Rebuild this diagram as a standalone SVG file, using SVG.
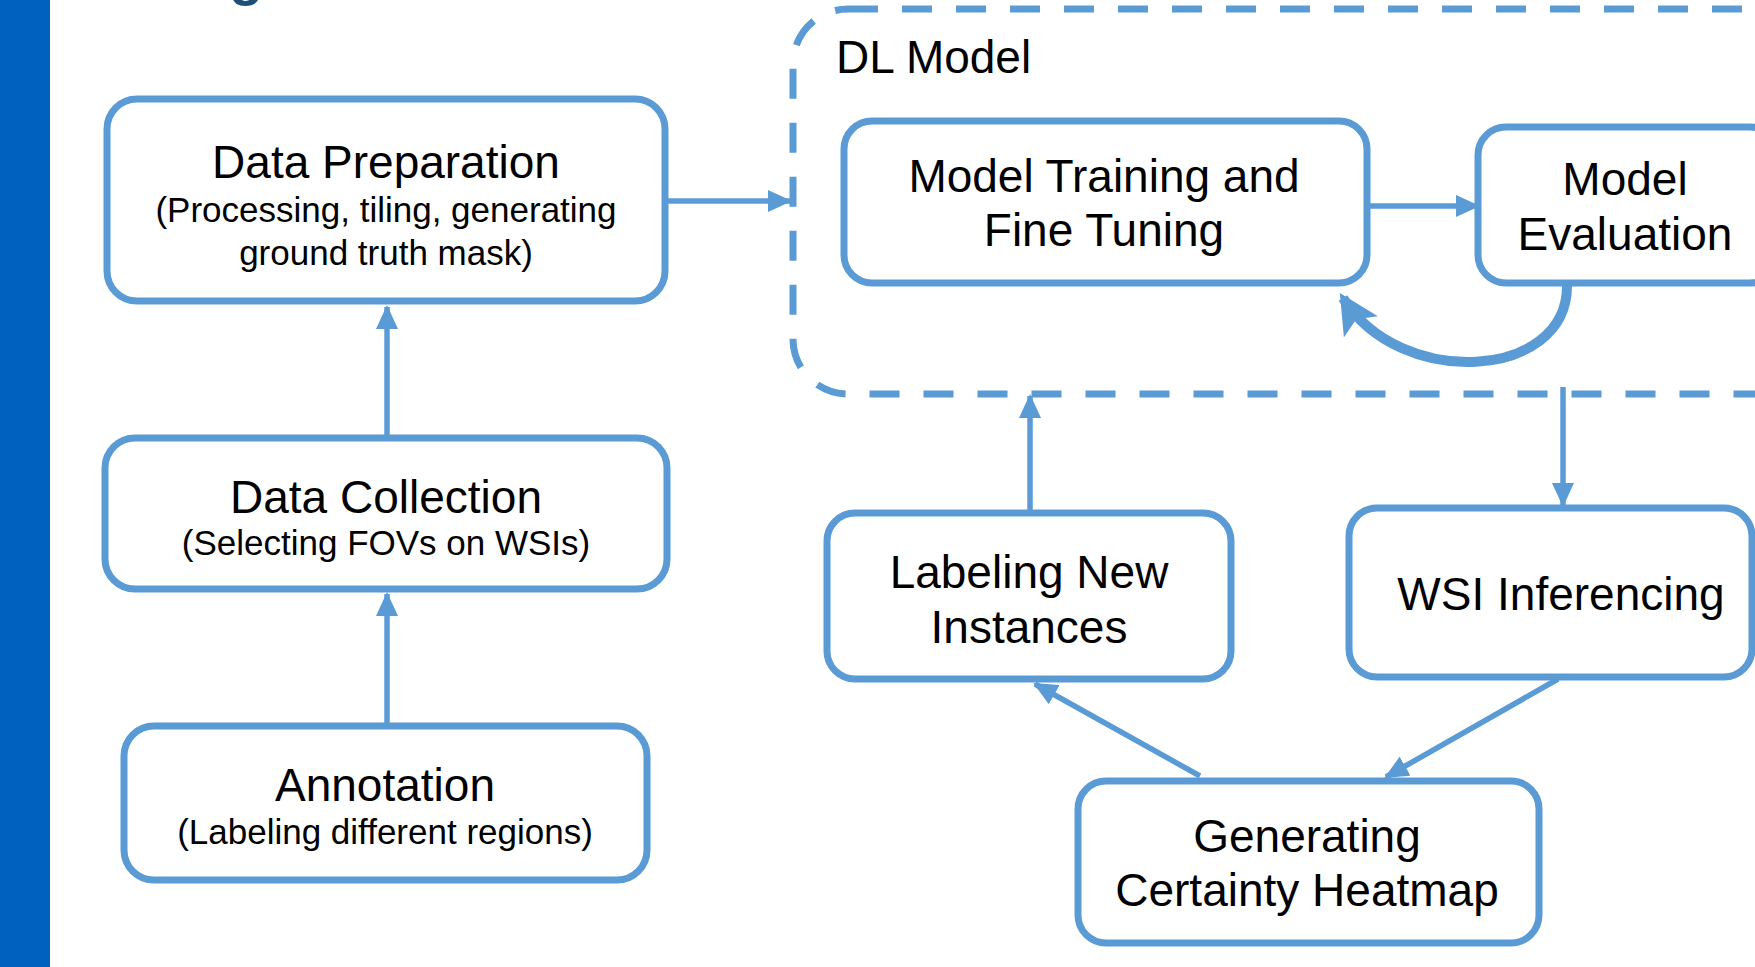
<svg xmlns="http://www.w3.org/2000/svg" width="1755" height="967" viewBox="0 0 1755 967">
  <defs>
    <style>
      .box { fill: #ffffff; stroke: #5B9BD5; stroke-width: 7; }
      .frame { fill: none; stroke: #5B9BD5; stroke-width: 7; stroke-dasharray: 30 24; }
      .link { fill: none; stroke: #5B9BD5; stroke-width: 5.5; }
      .loop { fill: none; stroke: #5B9BD5; stroke-width: 10; }
      .t { font-family: "Liberation Sans", Arial, Helvetica, sans-serif; fill: #000000; text-anchor: middle; }
      .h { font-size: 46px; }
      .s { font-size: 35px; }
    </style>
    <marker id="arrow" markerUnits="userSpaceOnUse" markerWidth="24" markerHeight="22" refX="22" refY="11" orient="auto">
      <path d="M0,0 L24,11 L0,22 Z" fill="#5B9BD5"/>
    </marker>
    <marker id="arrowBig" markerUnits="userSpaceOnUse" markerWidth="40" markerHeight="40" refX="34" refY="20" orient="auto">
      <path d="M0,0 L40,20 L0,40 L9,20 Z" fill="#5B9BD5"/>
    </marker>
  </defs>

  <rect width="1755" height="967" fill="#ffffff"/>

  <!-- side band and clipped heading -->
  <rect x="0" y="0" width="50" height="967" fill="#0061BE"/>
  <text x="229" y="-6" font-family="Liberation Sans, Arial, sans-serif" font-weight="bold" font-size="56" fill="#1F4E79">g</text>

  <!-- DL model container -->
  <g id="dl-model">
    <rect class="frame" x="793" y="9" width="1100" height="385" rx="55" ry="55"/>
    <text class="t h" x="836" y="73" style="text-anchor:start">DL Model</text>
  </g>

  <g id="data-preparation">
    <rect class="box" x="107" y="99" width="558" height="202" rx="30"/>
    <text class="t h" x="386" y="178">Data Preparation</text>
    <text class="t s" x="386" y="222">(Processing, tiling, generating</text>
    <text class="t s" x="386" y="265">ground truth mask)</text>
  </g>

  <g id="data-collection">
    <rect class="box" x="105" y="438" width="562" height="151" rx="30"/>
    <text class="t h" x="386" y="513">Data Collection</text>
    <text class="t s" x="386" y="555">(Selecting FOVs on WSIs)</text>
  </g>

  <g id="annotation">
    <rect class="box" x="124" y="726" width="523" height="154" rx="30"/>
    <text class="t h" x="385" y="801">Annotation</text>
    <text class="t s" x="385" y="844">(Labeling different regions)</text>
  </g>

  <g id="model-training">
    <rect class="box" x="844" y="121" width="523" height="162" rx="28"/>
    <text class="t h" x="1104" y="192">Model Training and</text>
    <text class="t h" x="1104" y="246">Fine Tuning</text>
  </g>

  <g id="model-evaluation">
    <rect class="box" x="1478" y="127" width="300" height="156" rx="28"/>
    <text class="t h" x="1625" y="195">Model</text>
    <text class="t h" x="1625" y="250">Evaluation</text>
  </g>

  <g id="labeling-new-instances">
    <rect class="box" x="827" y="513" width="404" height="166" rx="28"/>
    <text class="t h" x="1029" y="588">Labeling New</text>
    <text class="t h" x="1029" y="643">Instances</text>
  </g>

  <g id="wsi-inferencing">
    <rect class="box" x="1349" y="508" width="403" height="169" rx="28"/>
    <text class="t h" x="1561" y="610">WSI Inferencing</text>
  </g>

  <g id="certainty-heatmap">
    <rect class="box" x="1078" y="781" width="461" height="162" rx="28"/>
    <text class="t h" x="1307" y="852">Generating</text>
    <text class="t h" x="1307" y="906">Certainty Heatmap</text>
  </g>

  <g id="connectors">
    <path class="link" d="M387,723 L387,594" marker-end="url(#arrow)"/>
    <path class="link" d="M387,435 L387,307" marker-end="url(#arrow)"/>
    <path class="link" d="M668,201 L790,201" marker-end="url(#arrow)"/>
    <path class="link" d="M1370,206 L1478,206" marker-end="url(#arrow)"/>
    <path class="loop" d="M1567,286 C1567,380 1400,390 1343,298" marker-end="url(#arrowBig)"/>
    <path class="link" d="M1030,510 L1030,396" marker-end="url(#arrow)"/>
    <path class="link" d="M1563,387 L1563,505" marker-end="url(#arrow)"/>
    <path class="link" d="M1558,679 L1386,777" marker-end="url(#arrow)"/>
    <path class="link" d="M1200,776 L1035,684" marker-end="url(#arrow)"/>
  </g>
</svg>
